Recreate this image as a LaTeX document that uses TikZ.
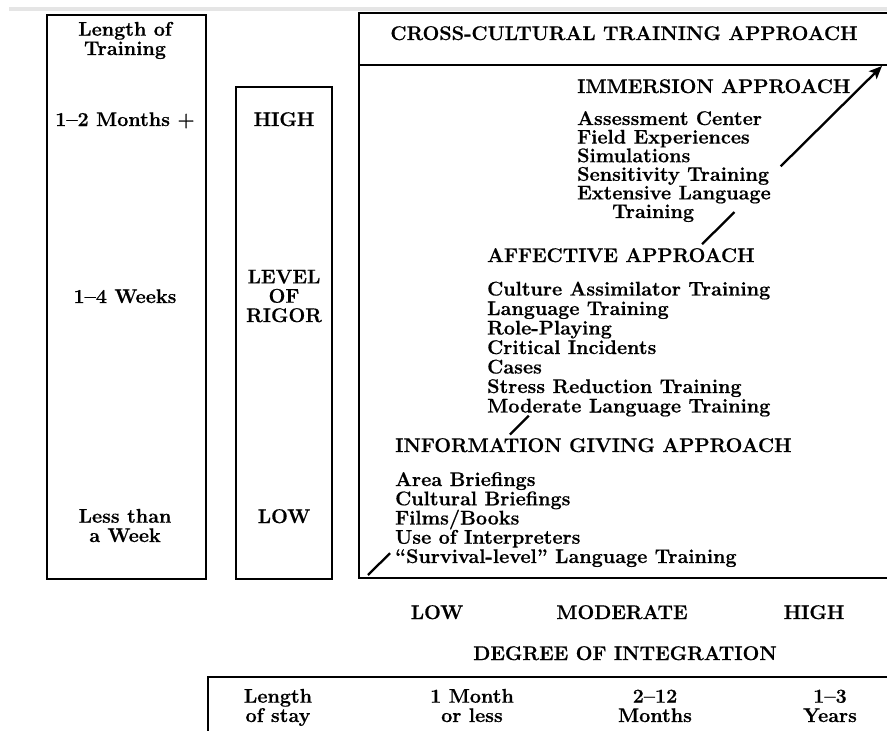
\documentclass[tikz,border=0pt]{standalone}
\usepackage{fontspec}
\setmainfont{Latin Modern Roman}[BoldFeatures={FakeBold=0.6}]
\usetikzlibrary{calc,arrows.meta}
\begin{document}
\begin{tikzpicture}[x=1pt,y=-1pt,
  txt/.style={font=\fontsize{19.8}{19.3}\selectfont\bfseries, inner sep=0pt, align=center, anchor=base},
  item/.style={txt, anchor=base west, align=left},
  frame/.style={line width=1.5pt},
  trend/.style={line width=2.3pt}]
\useasboundingbox (0,0) rectangle (887,731);
\clip (0,0) rectangle (887,731);
% faint page edge along the top
\fill[black!10] (9,7) rectangle (887,11);

% column frames
\draw[frame] (47,15) rectangle (206,579);
\draw[frame] (236,87) rectangle (332,579);
\draw[frame] (359,13) rectangle (900,578);
\draw[frame] (359,65) -- (900,65);
\draw[frame] (208,745) |- (900,677);

% length of training column (multi-line nodes sit on their last baseline)
\node[txt] (lt)   at (125,55)  {Length of\\Training};
\node[txt] (lt1)  at (125,126) {1--2 Months +};
\node[txt] (lt2)  at (125,303) {1--4 Weeks};
\node[txt] (lt3)  at (125,542) {Less than\\a Week};

% level of rigor column
\node[txt] (rg1)  at (284,126) {HIGH};
\node[txt] (rg)   at (284,322) {LEVEL\\OF\\RIGOR};
\node[txt] (rg3)  at (284,523) {LOW};

% approaches
\node[txt] (title) at (624,40) {CROSS-CULTURAL TRAINING APPROACH};

\node[item] (imm) at (577,93) {IMMERSION APPROACH};
\foreach \t [count=\i from 0] in {Assessment Center, Field Experiences, Simulations, Sensitivity Training, Extensive Language}
  \node[item] (imm\i) at (577,125+18.6*\i) {\t};
\node[item] (imm5) at (612,218) {Training};

\node[item] (aff) at (487,262) {AFFECTIVE APPROACH};
\foreach \t [count=\i from 0] in {Culture Assimilator Training, Language Training, Role-Playing, Critical Incidents, Cases, Stress Reduction Training, Moderate Language Training}
  \node[item] (aff\i) at (487,295.5+19.5*\i) {\t};

\node[item] (info) at (395,452) {INFORMATION GIVING APPROACH};
\foreach \t [count=\i from 0] in {Area Briefings, Cultural Briefings, Films/Books, Use of Interpreters, ``Survival-level'' Language Training}
  \node[item] (info\i) at (395,486+19.25*\i) {\t};

% rising trend through the three approaches
\coordinate (start) at (368,575);
\coordinate (tip) at (882,66);
\draw[trend] (start) -- ($(start)!0.043!(tip)$);
\draw[trend] ($(start)!0.276!(tip)$) -- ($(start)!0.313!(tip)$);
\draw[trend] ($(start)!0.650!(tip)$) -- ($(start)!0.713!(tip)$);
\draw[trend, -{Stealth[length=13pt,width=11pt,inset=3pt]}] ($(start)!0.803!(tip)$) -- (tip);

% degree of integration axis
\node[txt] (ax1) at (437,619) {LOW};
\node[txt] (ax2) at (622,619) {MODERATE};
\node[txt] (ax3) at (814,619) {HIGH};
\node[txt] (axis) at (625,660) {DEGREE OF INTEGRATION};

% length of stay row
\node[txt] (ls)  at (278,722) {Length\\of stay};
\node[txt] (ls1) at (472,722) {1 Month\\or less};
\node[txt] (ls2) at (655,722) {2--12\\Months};
\node[txt] (ls3) at (830,722) {1--3\\Years};
\end{tikzpicture}
\end{document}
